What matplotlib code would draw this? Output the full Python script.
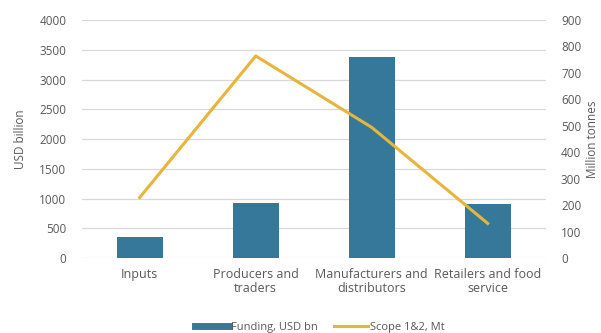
import matplotlib.pyplot as plt
from matplotlib.lines import Line2D

categories = ['Inputs', 'Producers and\ntraders', 'Manufacturers and\ndistributors',
              'Retailers and food\nservice']
funding = [360, 920, 3380, 910]
scope = [229, 764, 494, 131]

bar_color = '#36789a'
line_color = '#e8b43c'
text_color = '#595959'

plt.rcParams['font.family'] = ['Open Sans', 'DejaVu Sans']
plt.rcParams['font.size'] = 9

fig = plt.figure(figsize=(6.01, 3.33), dpi=100)
ax = fig.add_axes([0.136, 0.225, 0.772, 0.715])
x = list(range(len(categories)))
ax.bar(x, funding, width=0.4, color=bar_color, zorder=2)
ax.set_xlim(-0.5, 3.5)
ax.set_ylim(0, 4000)
ax.set_yticks(range(0, 4001, 500))
ax.grid(axis='y', color='#d9d9d9', linewidth=0.9, zorder=0)
ax.set_axisbelow(True)
for s in ax.spines.values():
    s.set_visible(False)
ax.tick_params(axis='both', length=0, colors=text_color, labelsize=8.5)
ax.tick_params(axis='y', pad=11)
ax.tick_params(axis='x', pad=7, labelsize=9)
ax.set_xticks(x)
ax.set_xticklabels(categories, color=text_color, linespacing=1.1, va='top')
ax.set_ylabel('USD billion', color=text_color, fontsize=8.5, labelpad=9)

ax2 = ax.twinx()
ax2.plot(x, scope, color=line_color, linewidth=2.2, zorder=3)
ax2.set_ylim(0, 900)
ax2.set_yticks(range(0, 901, 100))
for s in ax2.spines.values():
    s.set_visible(False)
ax2.tick_params(axis='y', length=0, colors=text_color, labelsize=8.5, pad=11)
ax2.set_ylabel('Million tonnes', color=text_color, fontsize=8.5, labelpad=3)

handles = [Line2D([0], [0], color=bar_color, linewidth=5),
           Line2D([0], [0], color=line_color, linewidth=2.2)]
fig.legend(handles, ['Funding, USD bn', 'Scope 1&2, Mt'], loc='lower center',
           bbox_to_anchor=(0.532, -0.03), ncol=2, frameon=False, fontsize=8,
           handlelength=3.1, handletextpad=0.2, columnspacing=1.4,
           labelcolor=text_color)

fig.savefig('out.png', dpi=100)
